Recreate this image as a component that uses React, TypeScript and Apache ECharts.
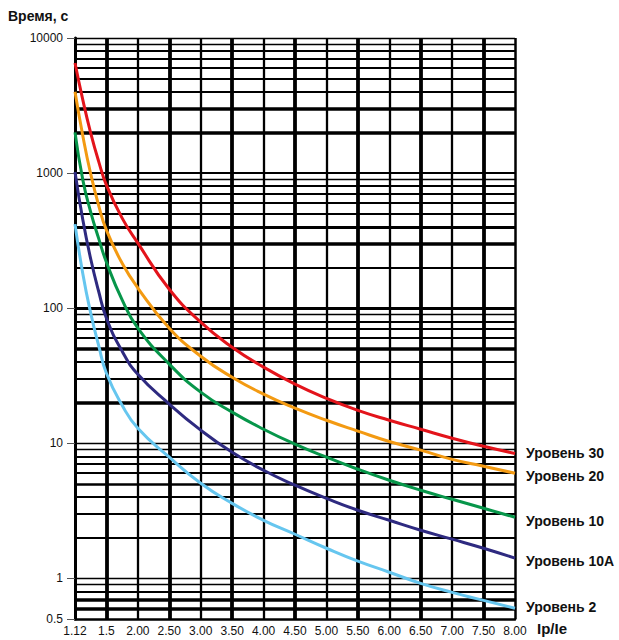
import { useEffect, useRef } from 'react';
import * as echarts from 'echarts';

// X tick labels (equally spaced positions 0..14)
const xLabels = ['1.12', '1.5', '2.00', '2.50', '3.00', '3.50', '4.00', '4.50', '5.00', '5.50', '6.00', '6.50', '7.00', '7.50', '8.00'];
// sample positions (index along the x scale) where the curves were read
const xSample = [0, 0.25, 0.5, 0.75, 1, 1.5, 2, 3, 4, 5, 6, 7, 8, 9, 10, 11, 12, 13, 14];

const level30 = [6530, 3470, 1980, 1227, 815, 464, 303, 138, 78.8, 51.4, 36.6, 27.4, 21.5, 17.5, 14.8, 12.7, 10.9, 9.5, 8.4];
const level20 = [4000, 1880, 984, 580, 378, 215, 141, 71.1, 44.1, 30.8, 23.1, 18.2, 14.8, 12.3, 10.3, 8.9, 7.6, 6.76, 6.0];
const level10 = [2000, 887, 514, 330, 219, 115, 71.1, 38.5, 23.9, 17.0, 12.7, 9.84, 7.88, 6.42, 5.32, 4.49, 3.85, 3.3, 2.83];
const level10A = [1020, 449, 231, 134, 84.3, 48, 32.4, 19.5, 12.5, 8.57, 6.31, 4.89, 3.91, 3.19, 2.69, 2.27, 1.95, 1.67, 1.41];
const level2 = [419, 179, 91.8, 53.2, 33.0, 19.1, 12.9, 7.88, 5.06, 3.59, 2.69, 2.12, 1.67, 1.34, 1.11, 0.918, 0.787, 0.687, 0.6];

const seriesNames = ['Уровень 30', 'Уровень 20', 'Уровень 10', 'Уровень 10A', 'Уровень 2'];
const yLabelValues = [0.5, 1, 10, 100, 1000, 10000];
const hGridValues = [
  0.6, 0.7, 0.8, 0.9, 1,
  2, 3, 4, 5, 6, 7, 8, 9, 10,
  20, 30, 40, 50, 60, 70, 80, 90, 100,
  200, 300, 400, 500, 600, 700, 800, 900, 1000,
  2000, 3000, 4000, 5000, 6000, 7000, 8000, 9000, 10000,
];

const colors = ['#e3141b', '#f39a12', '#07964a', '#2e2a80', '#66c6ef'];
const labelOffsets = [0, 3, 4, 3, -1];

function hWidth(v: number): number {
  const thick = [0.6, 0.7, 2000, 3000, 300, 20, 50];
  if (thick.includes(v)) return 3.5;
  if (v === 400 || v === 100) return 3;
  if (v === 5) return 2.5;
  if (v === 1 || v === 10 || v === 10000 || v === 0.9 || v === 9000 || v === 900 || v === 90 || v === 9) return 1.4;
  return 1.8;
}

export default function App() {
  const ref = useRef<HTMLDivElement>(null);
  useEffect(() => {
    document.body.style.margin = '0';
    if (!ref.current) return;
    const chart = echarts.init(ref.current, null, { renderer: 'svg' });
    const font = "'Liberation Sans Narrow', 'Liberation Sans', Arial, sans-serif";
    const bold = "'Liberation Sans', Arial, sans-serif";
    const data = [level30, level20, level10, level10A, level2];

    const gridMarks: any[] = [];
    hGridValues.forEach((v) => {
      gridMarks.push({ yAxis: v, lineStyle: { width: hWidth(v), color: '#000', type: 'solid' } });
    });
    xLabels.forEach((_, i) => {
      if (i === 0) return;
      const w = i === 14 ? 2.5 : i % 2 === 1 ? 3.8 : 2.3;
      gridMarks.push({ xAxis: i, lineStyle: { width: w, color: '#000', type: 'solid' } });
    });

    chart.setOption({
      animation: false,
      backgroundColor: '#fff',
      grid: { left: 75, right: 104, top: 38, bottom: 21, containLabel: false },
      xAxis: {
        type: 'value',
        min: 0,
        max: 14,
        interval: 1,
        axisLine: { show: true, onZero: false, lineStyle: { color: '#000', width: 2.5 } },
        axisTick: { show: false },
        splitLine: { show: false },
        axisLabel: {
          margin: 6,
          fontFamily: font,
          fontSize: 12,
          color: '#111',
          formatter: (v: number) => xLabels[Math.round(v)] ?? '',
        },
      },
      yAxis: {
        type: 'log',
        logBase: 10,
        min: 0.5,
        max: 10000,
        axisLine: { show: true, onZero: false, lineStyle: { color: '#000', width: 3 } },
        axisTick: { show: true, length: 8, customValues: yLabelValues, lineStyle: { color: '#555', width: 1 } },
        splitLine: { show: false },
        minorSplitLine: { show: false },
        axisLabel: {
          customValues: yLabelValues,
          margin: 12,
          fontFamily: font,
          fontSize: 12,
          color: '#111',
          formatter: (v: number) => (v >= 1 ? String(Math.round(v)) : String(Math.round(v * 10) / 10)),
        },
      },
      graphic: [
        { type: 'text', left: 8, top: 9, style: { text: 'Время, с', font: `bold 14px ${bold}`, fill: '#111' } },
        { type: 'text', left: 537, top: 621, style: { text: 'Ip/Ie', font: `bold 15px ${bold}`, fill: '#111' } },
      ],
      series: [
        {
          type: 'line',
          data: [],
          silent: true,
          z: 1,
          markLine: { silent: true, symbol: 'none', label: { show: false }, animation: false, data: gridMarks },
        },
        ...data.map((vals, k) => ({
          type: 'line',
          name: seriesNames[k],
          z: 5,
          data: xSample.map((x, i) => [x, vals[i]]),
          showSymbol: false,
          symbol: 'none',
          smooth: 0.5,
          lineStyle: { color: colors[k], width: 3 },
          endLabel: {
            show: true,
            formatter: seriesNames[k],
            distance: 11,
            offset: [0, labelOffsets[k]],
            fontFamily: bold,
            fontWeight: 'bold',
            fontSize: 14,
            color: '#111',
          },
        })),
      ],
    });
    return () => chart.dispose();
  }, []);
  return <div ref={ref} style={{ width: 619, height: 640 }} />;
}
